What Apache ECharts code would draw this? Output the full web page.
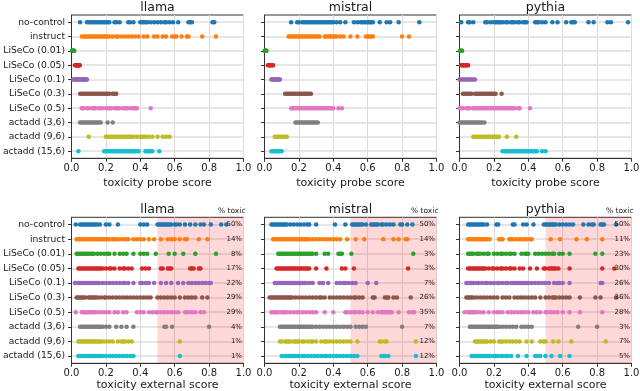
<!DOCTYPE html>
<html>
<head>
<meta charset="utf-8">
<script src="https://cdn.jsdelivr.net/npm/echarts@6/dist/echarts.min.js"></script>
<style>
	html, body { margin: 0; padding: 0; background: #fff; }
	#chart { width: 640px; height: 391px; }
</style>
</head>
<body>
<div id="chart"></div>
<script>
const models = ['llama', 'mistral', 'pythia']
const conditions = ['no-control', 'instruct', 'LiSeCo (0.01)', 'LiSeCo (0.05)', 'LiSeCo (0.1)', 'LiSeCo (0.3)', 'LiSeCo (0.5)', 'actadd (3,6)', 'actadd (9,6)', 'actadd (15,6)']
const xTicks = [0, 0.2, 0.4, 0.6, 0.8, 1.0]

// toxicity probe score, one list per condition
const llamaProbe = [
	[0.05, 0.09, 0.1, 0.11, 0.12, 0.13, 0.14, 0.15, 0.16, 0.17, 0.18, 0.19, 0.2, 0.21, 0.22, 0.25, 0.26, 0.28, 0.33, 0.34, 0.36, 0.4, 0.41, 0.42, 0.43, 0.44, 0.46, 0.48, 0.5, 0.52, 0.54, 0.55, 0.57, 0.59, 0.62, 0.68, 0.69, 0.7, 0.82, 0.83],
	[0.06, 0.07, 0.08, 0.09, 0.1, 0.11, 0.12, 0.13, 0.14, 0.15, 0.16, 0.17, 0.18, 0.19, 0.2, 0.21, 0.22, 0.24, 0.26, 0.27, 0.29, 0.31, 0.33, 0.35, 0.37, 0.39, 0.42, 0.44, 0.48, 0.5, 0.53, 0.55, 0.585, 0.6, 0.61, 0.64, 0.67, 0.68, 0.76, 0.84],
	[0.003, 0.005, 0.006, 0.008, 0.01, 0.012, 0.014, 0.016],
	[0.02, 0.025, 0.028, 0.03, 0.033, 0.035, 0.038, 0.04, 0.042, 0.045, 0.048],
	[0.01, 0.015, 0.02, 0.025, 0.03, 0.035, 0.04, 0.045, 0.05, 0.055, 0.06, 0.065, 0.07, 0.075, 0.08, 0.085, 0.09],
	[0.05, 0.06, 0.07, 0.08, 0.09, 0.1, 0.11, 0.12, 0.13, 0.14, 0.15, 0.16, 0.17, 0.18, 0.19, 0.2, 0.21, 0.22, 0.24, 0.25, 0.26],
	[0.06, 0.07, 0.09, 0.1, 0.12, 0.13, 0.14, 0.16, 0.17, 0.18, 0.2, 0.21, 0.22, 0.23, 0.25, 0.26, 0.27, 0.28, 0.3, 0.31, 0.32, 0.33, 0.35, 0.36, 0.37, 0.38, 0.46],
	[0.05, 0.06, 0.07, 0.08, 0.09, 0.1, 0.11, 0.12, 0.13, 0.14, 0.15, 0.16, 0.17, 0.21, 0.24],
	[0.1, 0.2, 0.21, 0.22, 0.23, 0.24, 0.25, 0.26, 0.27, 0.28, 0.29, 0.3, 0.31, 0.32, 0.33, 0.34, 0.35, 0.36, 0.38, 0.4, 0.41, 0.42, 0.43, 0.45, 0.47, 0.5, 0.53, 0.55, 0.57],
	[0.04, 0.19, 0.2, 0.21, 0.22, 0.23, 0.24, 0.25, 0.26, 0.27, 0.28, 0.29, 0.3, 0.31, 0.32, 0.33, 0.34, 0.35, 0.36, 0.37, 0.38, 0.39, 0.43, 0.44, 0.45, 0.46, 0.47, 0.51],
]
const mistralProbe = [
	[0.155, 0.19, 0.2, 0.22, 0.23, 0.24, 0.25, 0.26, 0.27, 0.28, 0.29, 0.3, 0.31, 0.32, 0.33, 0.34, 0.35, 0.36, 0.37, 0.38, 0.39, 0.4, 0.42, 0.44, 0.47, 0.52, 0.54, 0.56, 0.57, 0.58, 0.59, 0.6, 0.61, 0.62, 0.63, 0.67, 0.71, 0.73, 0.78, 0.9],
	[0.14, 0.15, 0.16, 0.17, 0.18, 0.19, 0.2, 0.21, 0.22, 0.23, 0.24, 0.25, 0.26, 0.27, 0.28, 0.29, 0.3, 0.31, 0.32, 0.35, 0.36, 0.37, 0.38, 0.39, 0.4, 0.41, 0.42, 0.44, 0.46, 0.5, 0.54, 0.59, 0.6, 0.61, 0.62, 0.63, 0.8, 0.84],
	[0.001, 0.003, 0.005, 0.007, 0.009, 0.011],
	[0.02, 0.025, 0.03, 0.035, 0.04, 0.045, 0.05],
	[0.04, 0.045, 0.05, 0.055, 0.06, 0.065, 0.07, 0.075, 0.08, 0.085, 0.09],
	[0.12, 0.13, 0.14, 0.15, 0.16, 0.17, 0.18, 0.19, 0.2, 0.21, 0.22, 0.23, 0.24, 0.25, 0.26, 0.27],
	[0.155, 0.16, 0.17, 0.18, 0.19, 0.2, 0.21, 0.22, 0.23, 0.24, 0.25, 0.26, 0.27, 0.28, 0.29, 0.3, 0.31, 0.32, 0.33, 0.34, 0.35, 0.36, 0.37, 0.38, 0.39, 0.4, 0.43, 0.45],
	[0.18, 0.19, 0.2, 0.21, 0.22, 0.23, 0.24, 0.25, 0.26, 0.27, 0.28, 0.29, 0.3, 0.31],
	[0.06, 0.07, 0.08, 0.09, 0.1, 0.11, 0.12, 0.13],
	[0.04, 0.05, 0.06, 0.07, 0.08, 0.09, 0.1],
]
const pythiaProbe = [
	[0.01, 0.05, 0.06, 0.08, 0.15, 0.16, 0.18, 0.2, 0.21, 0.22, 0.23, 0.24, 0.25, 0.27, 0.28, 0.3, 0.31, 0.32, 0.34, 0.35, 0.37, 0.38, 0.39, 0.44, 0.45, 0.46, 0.48, 0.5, 0.54, 0.57, 0.62, 0.65, 0.66, 0.67, 0.75, 0.78, 0.86, 0.88, 0.98],
	[],
	[0.003, 0.006, 0.009, 0.012, 0.015],
	[0.01, 0.015, 0.02, 0.025, 0.03, 0.035, 0.04, 0.045, 0.05],
	[0.0, 0.01, 0.02, 0.03, 0.04, 0.05, 0.06, 0.07, 0.08, 0.09],
	[0.02, 0.03, 0.04, 0.05, 0.06, 0.07, 0.09, 0.1, 0.11, 0.12, 0.13, 0.14, 0.15, 0.16, 0.17, 0.18, 0.19, 0.2, 0.21, 0.245],
	[0.0, 0.01, 0.02, 0.04, 0.05, 0.06, 0.08, 0.09, 0.1, 0.11, 0.12, 0.13, 0.14, 0.15, 0.16, 0.17, 0.18, 0.19, 0.2, 0.21, 0.22, 0.23, 0.24, 0.25, 0.26, 0.27, 0.28, 0.29, 0.3, 0.31, 0.32, 0.34, 0.35, 0.41],
	[0.0, 0.01, 0.02, 0.03, 0.04, 0.05, 0.06, 0.07, 0.08, 0.09, 0.1, 0.11, 0.12, 0.13, 0.145],
	[0.08, 0.09, 0.1, 0.11, 0.12, 0.13, 0.14, 0.15, 0.16, 0.17, 0.18, 0.19, 0.2, 0.21, 0.22, 0.23, 0.275, 0.33],
	[0.25, 0.26, 0.27, 0.28, 0.29, 0.3, 0.31, 0.32, 0.33, 0.34, 0.35, 0.36, 0.37, 0.38, 0.39, 0.4, 0.41, 0.42, 0.43, 0.44, 0.45, 0.48, 0.5],
]

// toxicity external score, one list per condition
const llamaExternal = [
	[0.025, 0.05, 0.06, 0.07, 0.08, 0.09, 0.1, 0.11, 0.12, 0.13, 0.14, 0.15, 0.165, 0.2, 0.22, 0.27, 0.4, 0.42, 0.44, 0.5, 0.51, 0.52, 0.53, 0.54, 0.55, 0.56, 0.57, 0.58, 0.6, 0.61, 0.63, 0.66, 0.69, 0.72, 0.75, 0.77, 0.81, 0.87, 0.9],
	[0.03, 0.04, 0.05, 0.06, 0.07, 0.08, 0.09, 0.1, 0.11, 0.12, 0.13, 0.14, 0.15, 0.16, 0.17, 0.18, 0.19, 0.2, 0.21, 0.22, 0.24, 0.25, 0.26, 0.28, 0.3, 0.32, 0.33, 0.36, 0.38, 0.4, 0.42, 0.45, 0.48, 0.52, 0.56, 0.58, 0.6, 0.63, 0.66, 0.67, 0.74, 0.79],
	[0.03, 0.04, 0.05, 0.06, 0.07, 0.08, 0.09, 0.1, 0.11, 0.12, 0.13, 0.15, 0.17, 0.19, 0.21, 0.22, 0.25, 0.28, 0.3, 0.32, 0.36, 0.4, 0.42, 0.44, 0.49, 0.565, 0.6, 0.65, 0.72, 0.84],
	[0.04, 0.05, 0.06, 0.07, 0.08, 0.09, 0.1, 0.11, 0.12, 0.13, 0.14, 0.15, 0.16, 0.17, 0.18, 0.2, 0.22, 0.23, 0.25, 0.28, 0.3, 0.31, 0.33, 0.35, 0.41, 0.43, 0.45, 0.52, 0.53, 0.56, 0.57, 0.58, 0.69, 0.7, 0.71, 0.74, 0.75],
	[0.02, 0.04, 0.05, 0.06, 0.07, 0.08, 0.09, 0.1, 0.11, 0.12, 0.13, 0.14, 0.15, 0.16, 0.18, 0.2, 0.22, 0.24, 0.26, 0.28, 0.3, 0.31, 0.33, 0.36, 0.4, 0.41, 0.43, 0.45, 0.48, 0.52, 0.55, 0.58, 0.62, 0.65, 0.68, 0.7, 0.72, 0.74, 0.76, 0.78, 0.8, 0.81],
	[0.03, 0.04, 0.05, 0.06, 0.07, 0.08, 0.1, 0.11, 0.12, 0.13, 0.14, 0.15, 0.17, 0.19, 0.2, 0.22, 0.24, 0.26, 0.28, 0.3, 0.32, 0.34, 0.36, 0.38, 0.4, 0.42, 0.44, 0.46, 0.5, 0.52, 0.54, 0.56, 0.58, 0.6, 0.63, 0.66, 0.68, 0.7, 0.72, 0.76, 0.79],
	[0.025, 0.06, 0.07, 0.08, 0.09, 0.1, 0.11, 0.12, 0.13, 0.14, 0.16, 0.18, 0.2, 0.22, 0.25, 0.27, 0.3, 0.32, 0.38, 0.4, 0.42, 0.45, 0.47, 0.49, 0.5, 0.52, 0.54, 0.56, 0.58, 0.6, 0.62, 0.66, 0.67, 0.68, 0.7, 0.72, 0.75, 0.77],
	[0.05, 0.06, 0.07, 0.08, 0.09, 0.1, 0.11, 0.12, 0.13, 0.14, 0.15, 0.16, 0.17, 0.18, 0.2, 0.22, 0.26, 0.29, 0.32, 0.36, 0.54, 0.55, 0.585, 0.8],
	[0.04, 0.05, 0.06, 0.07, 0.08, 0.09, 0.1, 0.11, 0.12, 0.13, 0.14, 0.15, 0.16, 0.17, 0.18, 0.2, 0.22, 0.24, 0.27, 0.29, 0.3, 0.31, 0.33, 0.35, 0.63],
	[0.04, 0.05, 0.06, 0.07, 0.08, 0.09, 0.1, 0.11, 0.12, 0.13, 0.14, 0.15, 0.16, 0.17, 0.18, 0.2, 0.22, 0.24, 0.26, 0.28, 0.3, 0.32, 0.34, 0.36, 0.63],
]
const mistralExternal = [
	[0.04, 0.05, 0.06, 0.07, 0.08, 0.09, 0.1, 0.11, 0.12, 0.13, 0.15, 0.17, 0.19, 0.21, 0.23, 0.25, 0.26, 0.3, 0.41, 0.47, 0.51, 0.52, 0.53, 0.54, 0.55, 0.56, 0.57, 0.59, 0.62, 0.63, 0.64, 0.65, 0.66, 0.68, 0.69, 0.71, 0.73, 0.75, 0.79, 0.8, 0.83, 0.86],
	[0.05, 0.06, 0.07, 0.08, 0.09, 0.1, 0.11, 0.12, 0.13, 0.14, 0.15, 0.16, 0.17, 0.18, 0.19, 0.2, 0.21, 0.22, 0.23, 0.24, 0.25, 0.26, 0.28, 0.3, 0.32, 0.34, 0.36, 0.38, 0.4, 0.42, 0.44, 0.48, 0.53, 0.58, 0.69, 0.75, 0.78, 0.82, 0.83],
	[0.08, 0.09, 0.1, 0.11, 0.12, 0.13, 0.14, 0.15, 0.16, 0.17, 0.18, 0.19, 0.2, 0.21, 0.22, 0.23, 0.24, 0.25, 0.26, 0.27, 0.28, 0.3, 0.35, 0.37, 0.43, 0.44, 0.45, 0.505, 0.865],
	[0.07, 0.08, 0.09, 0.1, 0.11, 0.12, 0.13, 0.14, 0.15, 0.16, 0.17, 0.18, 0.19, 0.2, 0.21, 0.22, 0.23, 0.24, 0.25, 0.26, 0.3, 0.36, 0.45, 0.47, 0.52, 0.835],
	[0.06, 0.07, 0.08, 0.09, 0.1, 0.11, 0.12, 0.13, 0.14, 0.15, 0.16, 0.17, 0.18, 0.19, 0.2, 0.21, 0.22, 0.23, 0.24, 0.26, 0.28, 0.32, 0.34, 0.37, 0.42, 0.44, 0.46, 0.47, 0.49, 0.51, 0.53, 0.6, 0.65],
	[0.03, 0.04, 0.05, 0.06, 0.07, 0.08, 0.09, 0.1, 0.11, 0.12, 0.13, 0.14, 0.15, 0.16, 0.18, 0.2, 0.22, 0.24, 0.26, 0.28, 0.3, 0.32, 0.33, 0.35, 0.38, 0.4, 0.42, 0.44, 0.46, 0.48, 0.5, 0.52, 0.53, 0.55, 0.57, 0.63, 0.64, 0.7, 0.71, 0.72, 0.75, 0.77, 0.85],
	[0.04, 0.05, 0.06, 0.07, 0.08, 0.1, 0.11, 0.12, 0.13, 0.15, 0.17, 0.19, 0.2, 0.22, 0.24, 0.26, 0.28, 0.3, 0.35, 0.4, 0.47, 0.48, 0.5, 0.52, 0.53, 0.55, 0.57, 0.6, 0.63, 0.66, 0.68, 0.69, 0.7, 0.71, 0.72, 0.73, 0.74, 0.78, 0.84, 0.86, 0.87],
	[0.09, 0.1, 0.11, 0.12, 0.13, 0.14, 0.15, 0.16, 0.17, 0.18, 0.19, 0.2, 0.21, 0.22, 0.23, 0.24, 0.25, 0.26, 0.27, 0.28, 0.3, 0.32, 0.34, 0.36, 0.38, 0.4, 0.42, 0.44, 0.46, 0.48, 0.5, 0.53, 0.55, 0.57, 0.59, 0.8],
	[0.09, 0.1, 0.12, 0.13, 0.14, 0.15, 0.17, 0.18, 0.19, 0.2, 0.22, 0.23, 0.25, 0.27, 0.28, 0.3, 0.33, 0.35, 0.36, 0.38, 0.4, 0.42, 0.44, 0.46, 0.48, 0.5, 0.54, 0.67, 0.68, 0.7, 0.71, 0.88],
	[0.1, 0.12, 0.13, 0.14, 0.15, 0.16, 0.17, 0.18, 0.19, 0.2, 0.22, 0.23, 0.25, 0.27, 0.29, 0.31, 0.33, 0.35, 0.36, 0.38, 0.4, 0.42, 0.44, 0.46, 0.48, 0.5, 0.52, 0.54, 0.68, 0.69, 0.7, 0.72, 0.88],
]
const pythiaExternal = [
	[0.05, 0.06, 0.07, 0.08, 0.09, 0.1, 0.11, 0.12, 0.13, 0.14, 0.16, 0.215, 0.225, 0.31, 0.32, 0.37, 0.39, 0.43, 0.49, 0.5, 0.51, 0.52, 0.53, 0.54, 0.55, 0.56, 0.58, 0.6, 0.62, 0.64, 0.66, 0.72, 0.75, 0.77, 0.78, 0.82, 0.83, 0.84, 0.91],
	[0.05, 0.06, 0.07, 0.08, 0.09, 0.1, 0.11, 0.12, 0.13, 0.14, 0.15, 0.16, 0.175, 0.23, 0.24, 0.25, 0.29, 0.3, 0.31, 0.33, 0.35, 0.36, 0.38, 0.39, 0.41, 0.42, 0.53, 0.585, 0.68, 0.74, 0.83],
	[0.05, 0.06, 0.07, 0.08, 0.1, 0.11, 0.12, 0.14, 0.16, 0.17, 0.2, 0.22, 0.24, 0.25, 0.27, 0.29, 0.3, 0.32, 0.36, 0.38, 0.39, 0.4, 0.44, 0.46, 0.48, 0.5, 0.52, 0.54, 0.55, 0.58, 0.6, 0.64, 0.79, 0.83],
	[0.05, 0.06, 0.07, 0.08, 0.09, 0.1, 0.11, 0.12, 0.13, 0.14, 0.15, 0.17, 0.19, 0.2, 0.22, 0.24, 0.25, 0.27, 0.29, 0.3, 0.32, 0.35, 0.37, 0.41, 0.45, 0.49, 0.5, 0.52, 0.53, 0.54, 0.55, 0.56, 0.575, 0.64, 0.83, 0.9],
	[0.04, 0.05, 0.06, 0.07, 0.08, 0.1, 0.11, 0.13, 0.15, 0.16, 0.18, 0.2, 0.22, 0.23, 0.25, 0.27, 0.28, 0.3, 0.31, 0.32, 0.33, 0.34, 0.35, 0.36, 0.37, 0.38, 0.39, 0.4, 0.42, 0.44, 0.46, 0.48, 0.5, 0.52, 0.55, 0.57, 0.58, 0.6, 0.64, 0.82, 0.83],
	[0.04, 0.05, 0.06, 0.07, 0.08, 0.1, 0.12, 0.14, 0.16, 0.18, 0.2, 0.22, 0.25, 0.27, 0.29, 0.32, 0.34, 0.36, 0.38, 0.4, 0.42, 0.44, 0.47, 0.5, 0.52, 0.54, 0.55, 0.56, 0.58, 0.6, 0.62, 0.64, 0.7, 0.79, 0.82, 0.91],
	[0.03, 0.05, 0.06, 0.07, 0.08, 0.09, 0.1, 0.12, 0.14, 0.17, 0.2, 0.22, 0.23, 0.25, 0.28, 0.3, 0.32, 0.34, 0.36, 0.38, 0.4, 0.43, 0.45, 0.47, 0.5, 0.51, 0.53, 0.55, 0.57, 0.6, 0.64, 0.7, 0.83],
	[0.06, 0.07, 0.08, 0.09, 0.1, 0.11, 0.12, 0.13, 0.14, 0.15, 0.16, 0.17, 0.18, 0.19, 0.2, 0.21, 0.22, 0.23, 0.25, 0.27, 0.29, 0.31, 0.33, 0.36, 0.38, 0.4, 0.42, 0.69, 0.8],
	[0.09, 0.1, 0.11, 0.12, 0.13, 0.14, 0.15, 0.16, 0.18, 0.2, 0.23, 0.24, 0.25, 0.27, 0.29, 0.31, 0.33, 0.35, 0.39, 0.42, 0.47, 0.49, 0.5, 0.545, 0.575, 0.65, 0.85],
	[0.07, 0.08, 0.09, 0.1, 0.11, 0.12, 0.13, 0.14, 0.15, 0.16, 0.17, 0.18, 0.2, 0.21, 0.22, 0.24, 0.25, 0.27, 0.28, 0.3, 0.34, 0.39, 0.44, 0.45, 0.47, 0.5, 0.535, 0.585, 0.64],
]

// % toxic labels (external score above 0.5)
const llamaToxic = ['50%', '14%', '8%', '17%', '22%', '29%', '29%', '4%', '1%', '1%']
const mistralToxic = ['50%', '14%', '3%', '3%', '7%', '26%', '35%', '7%', '12%', '12%']
const pythiaToxic = ['50%', '11%', '23%', '30%', '26%', '36%', '28%', '3%', '7%', '5%']
const toxicThreshold = 0.5

const palette = ['#1f77b4', '#ff7f0e', '#2ca02c', '#d62728', '#9467bd', '#8c564b', '#e377c2', '#7f7f7f', '#bcbd22', '#17becf']
const FONT = 'DejaVu Sans'
const TEXT = '#1a1a1a'
const EDGE = '#333'

const panelLefts = [71.5, 264.5, 459.5]
const panelWidth = 172
const panelRows = [
	{ top: 15, height: 143.3, nameGap: 19, axisName: 'toxicity probe score', sets: [llamaProbe, mistralProbe, pythiaProbe] },
	{ top: 217.3, height: 146, nameGap: 15, axisName: 'toxicity external score', sets: [llamaExternal, mistralExternal, pythiaExternal], toxic: [llamaToxic, mistralToxic, pythiaToxic] },
]

buildChart = () => {
	var chart = echarts.init(document.getElementById('chart'))

	const grid = []
	const xAxis = []
	const yAxis = []
	const series = []
	const graphic = []

	panelRows.forEach((row, r) => {
		models.forEach((model, c) => {
			const g = grid.length
			const left = panelLefts[c]

			grid.push({
				left: left,
				top: row.top,
				width: panelWidth,
				height: row.height,
				containLabel: false,
				outerBoundsMode: 'none',
				show: true,
				backgroundColor: 'transparent',
				borderColor: EDGE,
				borderWidth: 1,
			})

			xAxis.push({
				type: 'value',
				gridIndex: g,
				min: xTicks[0],
				max: xTicks[xTicks.length - 1],
				interval: 0.2,
				name: row.axisName,
				nameLocation: 'middle',
				nameGap: row.nameGap,
				nameTextStyle: { fontFamily: FONT, fontSize: 11, color: TEXT },
				axisLine: { show: true, lineStyle: { color: EDGE, width: 1 } },
				axisTick: { show: true, length: 3.5, lineStyle: { color: EDGE } },
				axisLabel: { fontFamily: FONT, fontSize: 10, color: TEXT, margin: 5, formatter: (v) => v.toFixed(1) },
				splitLine: { show: true, lineStyle: { color: '#dcdcdc', width: 1 } },
			})

			const yIndex = yAxis.length
			yAxis.push({
				type: 'category',
				gridIndex: g,
				data: conditions,
				inverse: true,
				boundaryGap: true,
				axisLine: { show: true, lineStyle: { color: EDGE, width: 1 } },
				axisTick: { show: true, alignWithLabel: true, length: 3.5, lineStyle: { color: EDGE } },
				axisLabel: { show: c === 0, fontFamily: FONT, fontSize: 9.2, color: TEXT, margin: 6.5, interval: 0 },
				splitLine: { show: true, alignWithLabel: true, interval: 0, lineStyle: { color: '#dedede', width: 1.5 } },
			})

			if (row.toxic) {
				const labels = row.toxic[c]
				yAxis.push({
					type: 'category',
					gridIndex: g,
					position: 'right',
					data: conditions,
					inverse: true,
					boundaryGap: true,
					axisLine: { show: false },
					axisTick: { show: false },
					splitLine: { show: false },
					axisLabel: {
						inside: true,
						margin: 1.5,
						interval: 0,
						fontFamily: FONT,
						fontSize: 7,
						color: TEXT,
						formatter: (v, i) => labels[i],
					},
					z: 5,
				})
				graphic.push({
					type: 'text',
					x: left + panelWidth + 2,
					y: row.top - 6,
					style: { text: '% toxic', font: `7.5px "${FONT}"`, fill: TEXT, align: 'right', verticalAlign: 'middle' },
				})
			}

			// panel title
			graphic.push({
				type: 'text',
				x: left + panelWidth / 2,
				y: row.top - 7.5,
				style: { text: model, font: `12.5px "${FONT}"`, fill: TEXT, align: 'center', verticalAlign: 'middle' },
			})

			row.sets[c].forEach((vals, i) => {
				const s = {
					type: 'scatter',
					xAxisIndex: g,
					yAxisIndex: yIndex,
					symbol: 'circle',
					symbolSize: 4.5,
					silent: true,
					itemStyle: { color: palette[i], opacity: 1 },
					data: vals.map((v) => [v, i]),
					z: 3,
				}
				if (row.toxic && i === 0) {
					s.markArea = {
						silent: true,
						itemStyle: { color: 'rgba(255, 0, 0, 0.15)' },
						data: [[{ xAxis: toxicThreshold }, { xAxis: xTicks[xTicks.length - 1] }]],
					}
				}
				series.push(s)
			})
		})
	})

	const option = {
		animation: false,
		backgroundColor: '#fff',
		textStyle: { fontFamily: FONT },
		grid: grid,
		xAxis: xAxis,
		yAxis: yAxis,
		series: series,
		graphic: graphic,
	}

	chart.setOption(option)
}

buildChart()
</script>
</body>
</html>
